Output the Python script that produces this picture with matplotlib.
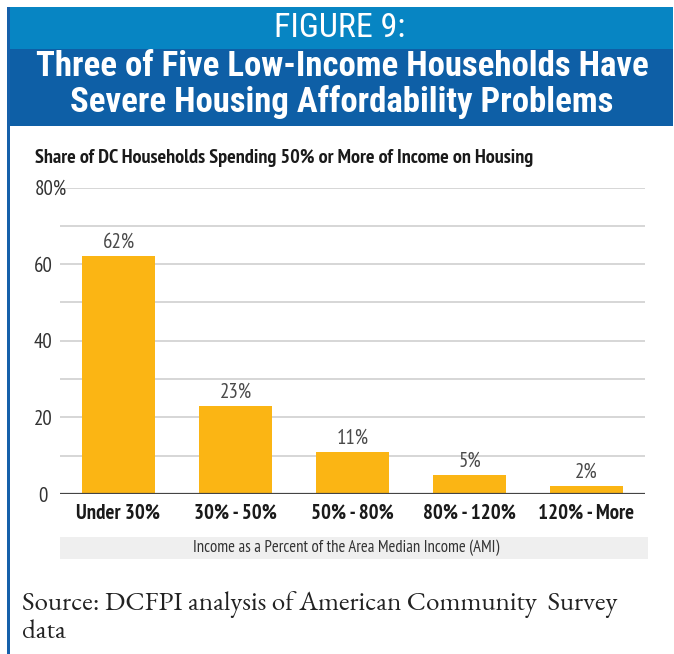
import matplotlib
matplotlib.use("Agg")
import matplotlib.pyplot as plt
from matplotlib.patches import Rectangle
from matplotlib.transforms import ScaledTranslation

# Data
categories = ["Under 30%", "30% - 50%", "50% - 80%", "80% - 120%", "120% - More"]
shares = [62, 23, 11, 5, 2]
y_ticks = [0, 20, 40, 60, 80]
y_tick_labels = ["0", "20", "40", "60", "80%"]
grid_levels = [10, 20, 30, 40, 50, 60, 70, 80]

W, H = 674, 654
fig = plt.figure(figsize=(W / 100, H / 100), dpi=100)
fig.patch.set_facecolor("white")

HEAD = ["Roboto Condensed", "DejaVu Sans"]
NARROW = ["PT Sans Narrow", "Archivo Narrow", "DejaVu Sans"]
SERIF = ["EB Garamond", "Cormorant Garamond", "Liberation Serif"]


def fx(px):
    return px / W


def fy(py):
    return 1 - py / H


def band(x0, y0, x1, y1, color):
    fig.patches.append(Rectangle((fx(x0), fy(y1)), fx(x1 - x0), (y1 - y0) / H,
                                 transform=fig.transFigure, facecolor=color,
                                 edgecolor="none", zorder=0))


# Header bands and left rule
band(7, 7, 673, 49, "#0785c3")
band(7, 49, 673, 126, "#0e5fa6")
band(7, 7, 10, 654, "#1660aa")

fig.text(fx(340), fy(28), "FIGURE 9:", color="white", fontsize=24.5,
         family=HEAD, ha="center", va="center")
fig.text(fx(342), fy(67), "Three of Five Low-Income Households Have", color="white",
         fontsize=25, family=HEAD, weight="bold", ha="center", va="center")
fig.text(fx(342), fy(102), "Severe Housing Affordability Problems", color="white",
         fontsize=25, family=HEAD, weight="bold", ha="center", va="center")

fig.text(fx(35), fy(158), "Share of DC Households Spending 50% or More of Income on Housing",
         color="#1a1a1a", fontsize=14.6, family=NARROW, weight="bold",
         ha="left", va="center")

# Axis-title band
band(60, 537, 648, 559, "#efefef")
fig.text(fx(346), fy(548), "Income as a Percent of the Area Median Income (AMI)",
         color="#333333", fontsize=12, family=NARROW, ha="center", va="center")

fig.text(fx(22), fy(604), "Source: DCFPI analysis of American Community  Survey",
         color="#222222", fontsize=19.5, family=SERIF, ha="left", va="center")
fig.text(fx(22), fy(632), "data", color="#222222", fontsize=19.5, family=SERIF,
         ha="left", va="center")

# Bar chart
ax = fig.add_axes([fx(60), fy(494), fx(645) - fx(60), (494 - 187.5) / H])
ax.set_facecolor("none")
x = list(range(len(categories)))
ax.bar(x, shares, width=0.625, color="#fbb514", zorder=3)
for xi, v in zip(x, shares):
    ax.annotate(f"{v}%", (xi, v), xytext=(0, 10), textcoords="offset points",
                ha="center", va="center", fontsize=15, family=NARROW, color="#4a4a4a")

for g in grid_levels:
    ax.axhline(g, color="#d6d6d6", lw=1.4, zorder=1)
ax.axhline(0, color="#444444", lw=1.6, zorder=4)

ax.set_xlim(-0.5, len(categories) - 0.5)
ax.set_ylim(0, 80)
ax.set_xticks(x)
ax.set_xticklabels(categories, fontsize=15, family=NARROW, weight="bold", color="#1a1a1a")
ax.set_yticks(y_ticks)
ax.set_yticklabels(y_tick_labels, fontsize=15, family=NARROW, color="#333333")
for s in ax.spines.values():
    s.set_visible(False)
ax.tick_params(axis="both", length=0)
ax.tick_params(axis="x", pad=7)
for lab in ax.get_yticklabels():
    lab.set_ha("center")
ax.yaxis.set_tick_params(pad=12)
lab80 = ax.get_yticklabels()[-1]
lab80.set_transform(lab80.get_transform() + ScaledTranslation(7 / 100, 0, fig.dpi_scale_trans))

fig.savefig("out.png", dpi=100, facecolor="white")
